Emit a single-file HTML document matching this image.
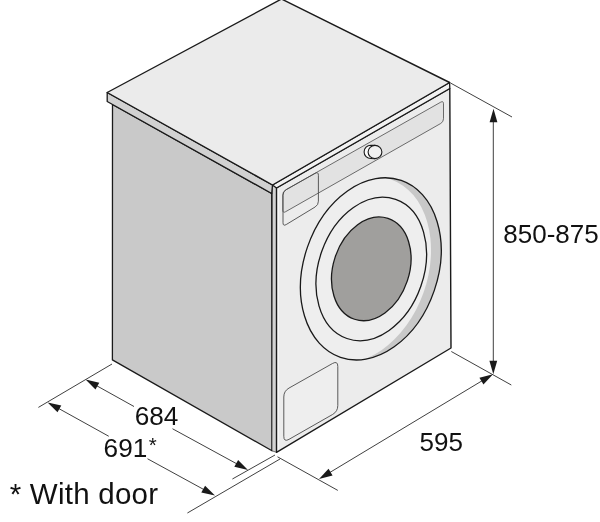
<!DOCTYPE html>
<html><head><meta charset="utf-8"><title>Dimensions</title>
<style>html,body{margin:0;padding:0;background:#fff;}body{width:600px;height:522px;overflow:hidden;font-family:"Liberation Sans",sans-serif;}svg{display:block;}svg{will-change:transform;}</style></head>
<body>
<svg width="600" height="522" viewBox="0 0 600 522">
<rect width="600" height="522" fill="#fff"/>
<polygon points="112.50,104.50 271.70,193.50 272.00,450.80 112.40,359.90" fill="#c9c9c9" stroke="#1a1a1a" stroke-width="1.3" stroke-linejoin="round"/>
<polygon points="272.50,185.00 276.50,188.00 276.50,452.30 272.00,450.80" fill="#d2d2d2" stroke="#1a1a1a" stroke-width="0.6" stroke-linejoin="round"/>
<polygon points="276.50,188.00 449.80,88.50 451.00,348.00 276.50,452.30" fill="#ececec" stroke="#1a1a1a" stroke-width="1.4" stroke-linejoin="round"/>
<line x1="278.4" y1="189.5" x2="278.4" y2="450" stroke="#f8f8f8" stroke-width="1"/>
<polygon points="107.20,92.50 272.50,185.00 271.70,193.50 107.20,101.50" fill="#d1d1d1" stroke="#1a1a1a" stroke-width="1.3" stroke-linejoin="round"/>
<polygon points="272.50,185.00 449.60,82.50 449.80,88.50 276.50,188.00" fill="#f2f2f2" stroke="#1a1a1a" stroke-width="1.3" stroke-linejoin="round"/>
<polygon points="107.20,92.50 281.50,-1.00 449.60,82.50 272.50,185.00" fill="#ebebeb" stroke="#1a1a1a" stroke-width="1.4" stroke-linejoin="round"/>
<path d="M282.80,194.70 Q282.80,191.50 285.59,189.92 L440.71,102.18 Q443.50,100.60 443.50,103.80 L443.50,118.70 Q443.50,121.90 440.72,123.48 L285.58,211.72 Q282.80,213.30 282.80,210.10 Z" fill="#e2e2e2" stroke="#4a4a4a" stroke-width="0.8"/>
<path d="M283.00,195.30 Q283.00,191.50 286.31,189.63 L315.09,173.37 Q318.40,171.50 318.40,175.30 L318.40,201.20 Q318.40,205.00 315.15,206.97 L286.25,224.53 Q283.00,226.50 283.00,222.70 Z" fill="none" stroke="#4a4a4a" stroke-width="0.9"/>
<path d="M283.80,397.00 Q283.80,391.00 289.02,388.05 L332.58,363.45 Q337.80,360.50 337.80,366.50 L337.80,405.50 Q337.80,411.50 332.59,414.47 L289.01,439.33 Q283.80,442.30 283.80,436.30 Z" fill="#eeeeee" stroke="#4a4a4a" stroke-width="0.9"/>
<path d="M370.8,145.3 L375,145.4 L375,158.6 L370.8,158.5 A6.7,6.6 0 0 1 370.8,145.3 Z" fill="#fbfbfb" stroke="#1a1a1a" stroke-width="1.1" stroke-linejoin="round"/>
<ellipse cx="375" cy="152" rx="6.9" ry="6.6" fill="#f1f1f1" stroke="#1a1a1a" stroke-width="1.1"/>
<defs><clipPath id="oc"><ellipse cx="370.83" cy="268.88" rx="93.55" ry="67.03" transform="rotate(108.95 370.83 268.88)" /></clipPath></defs>
<ellipse cx="370.83" cy="268.88" rx="93.55" ry="67.03" transform="rotate(108.95 370.83 268.88)" fill="#c8c8c8"/>
<g clip-path="url(#oc)"><ellipse cx="358.9" cy="269.76" rx="95.9" ry="68.55" transform="rotate(109.59 358.9 269.76)" fill="#eeeeee"/></g>
<ellipse cx="370.83" cy="268.88" rx="93.55" ry="67.03" transform="rotate(108.95 370.83 268.88)" fill="none" stroke="#1a1a1a" stroke-width="1.3"/>
<ellipse cx="371.27" cy="268.96" rx="73.68" ry="52.53" transform="rotate(109.32 371.27 268.96)" fill="#eeeeee" stroke="#1a1a1a" stroke-width="1.3"/>
<ellipse cx="371.28" cy="268.86" rx="53.1" ry="37.98" transform="rotate(108.38 371.28 268.86)" fill="#a09f9d" stroke="#1a1a1a" stroke-width="1.3"/>
<line x1="450.50" y1="83.00" x2="512.00" y2="117.00" stroke="#2a2a2a" stroke-width="0.9"/>
<line x1="451.30" y1="351.50" x2="511.30" y2="385.00" stroke="#2a2a2a" stroke-width="0.9"/>
<line x1="277.50" y1="456.80" x2="337.80" y2="490.40" stroke="#2a2a2a" stroke-width="0.9"/>
<line x1="275.00" y1="455.00" x2="232.40" y2="479.00" stroke="#2a2a2a" stroke-width="0.9"/>
<line x1="280.00" y1="459.00" x2="187.40" y2="513.00" stroke="#2a2a2a" stroke-width="0.9"/>
<line x1="112.00" y1="364.00" x2="38.40" y2="407.40" stroke="#2a2a2a" stroke-width="0.9"/>
<line x1="493.30" y1="115.00" x2="493.30" y2="368.00" stroke="#2a2a2a" stroke-width="0.9"/>
<polygon points="493.50,108.80 497.40,122.30 489.60,122.30" fill="#1a1a1a"/>
<polygon points="493.30,374.20 489.40,360.70 497.20,360.70" fill="#1a1a1a"/>
<line x1="322.00" y1="477.20" x2="489.00" y2="376.60" stroke="#2a2a2a" stroke-width="0.9"/>
<polygon points="319.00,479.00 328.55,468.69 332.58,475.38" fill="#1a1a1a"/>
<polygon points="493.00,374.20 483.45,384.51 479.42,377.82" fill="#1a1a1a"/>
<line x1="88.00" y1="380.90" x2="134.00" y2="406.50" stroke="#2a2a2a" stroke-width="0.9"/>
<line x1="172.50" y1="428.75" x2="245.00" y2="468.30" stroke="#2a2a2a" stroke-width="0.9"/>
<polygon points="85.60,379.60 99.29,382.76 95.50,389.57" fill="#1a1a1a"/>
<polygon points="248.00,470.00 234.31,466.84 238.10,460.03" fill="#1a1a1a"/>
<line x1="50.00" y1="403.70" x2="108.75" y2="436.25" stroke="#2a2a2a" stroke-width="0.9"/>
<line x1="147.50" y1="458.75" x2="212.00" y2="494.00" stroke="#2a2a2a" stroke-width="0.9"/>
<polygon points="47.60,402.40 61.29,405.56 57.50,412.37" fill="#1a1a1a"/>
<polygon points="215.00,495.60 201.31,492.44 205.10,485.63" fill="#1a1a1a"/>
<text x="503.3" y="242.8" font-size="26" font-family="Liberation Sans, sans-serif" fill="#111">850-875</text>
<text x="419.5" y="451" font-size="26" font-family="Liberation Sans, sans-serif" fill="#111">595</text>
<text x="134.7" y="425.4" font-size="26.2" font-family="Liberation Sans, sans-serif" fill="#111">684</text>
<text x="103.6" y="457.3" font-size="26.2" font-family="Liberation Sans, sans-serif" fill="#111">691<tspan font-size="20.5" dx="1.5" dy="-5.4">*</tspan></text>
<text x="9.7" y="503.5" font-size="29.5" letter-spacing="0.25" font-family="Liberation Sans, sans-serif" fill="#111">* With door</text>
</svg>
</body></html>
